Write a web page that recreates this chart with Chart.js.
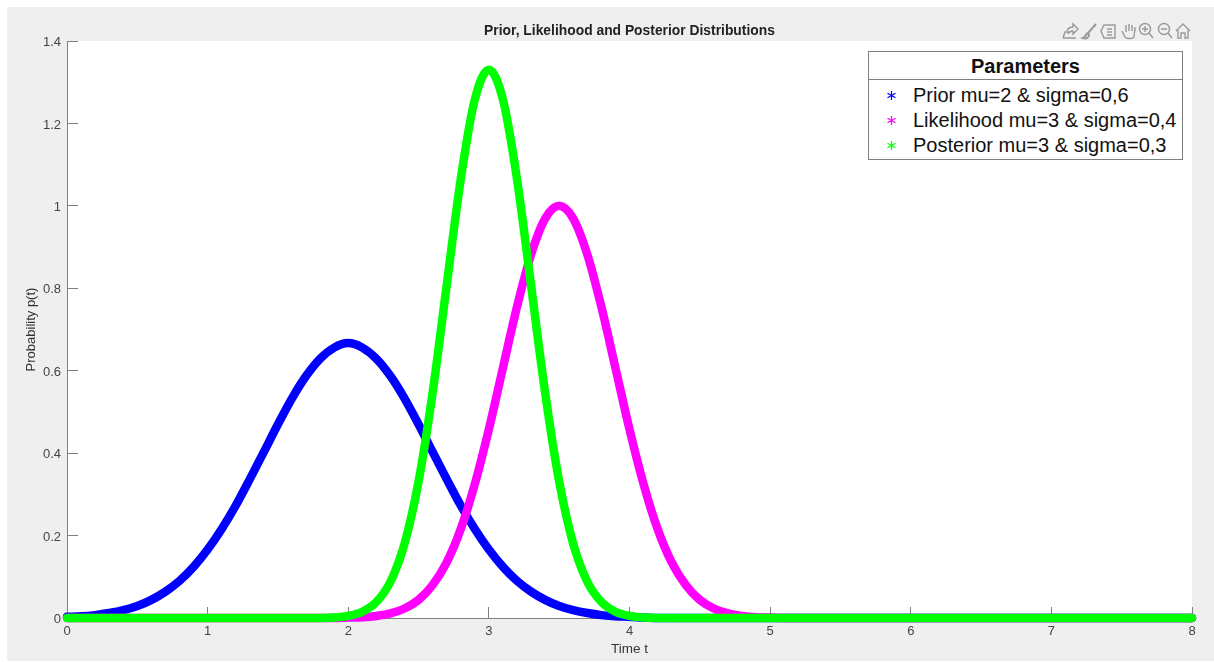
<!DOCTYPE html>
<html>
<head>
<meta charset="utf-8">
<style>
html, body { margin: 0; padding: 0; background: #fff; font-family: "Liberation Sans", Arial, sans-serif; }
#wrap { position: relative; width: 1214px; height: 662px; overflow: hidden; }
#bg { position: absolute; left: 7px; top: 7px; width: 1207px; height: 654px; background: #efefef; }
#myChart { position: absolute; left: 0; top: 0; }
#tools { position: absolute; left: 1060px; top: 21px; }
#legendBox { position: absolute; left: 868px; top: 51px; width: 313px; height: 107px; border: 1px solid #808080; background: #fff; color: #111; }
#legendBox .head { height: 27px; line-height: 29px; border-bottom: 1px solid #808080; text-align: center; font-weight: bold; font-size: 20px; }
#legendBox .row { position: relative; top: 3px; height: 25px; line-height: 25px; font-size: 20px; padding-left: 44px; white-space: nowrap; }
#legendBox svg { position: absolute; left: 18px; top: 8px; }
</style>
</head>
<body>
<div id="wrap">
  <div id="bg"></div>
  <canvas id="myChart" width="1214" height="662"></canvas>
  <svg id="tools" width="134" height="20" fill="none" stroke="#9a9a9a" stroke-width="1.4">
    <path d="M3 17h13M3 17l2-6h4M7 10c1-3 3-4 6-4V3l5 5-5 5v-3c-3 0-4 1-5 3"/>
    <path d="M36 3l-8 9M28 12c-3 1-2 4-5 5 3 1 6 0 6-3z" stroke-width="2"/>
    <path d="M41 10l3-6h11v13h-11zM47 8h5M47 11h5M47 14h5"/>
    <path d="M62 10l3 6c1 2 8 2 9 0l1-9M66 11V4M69 10V3M72 10V4M75 10V6"/>
    <circle cx="85" cy="8" r="5.5"/><path d="M89 12l4 5M82 8h6M85 5v6"/>
    <circle cx="104" cy="8" r="5.5"/><path d="M108 12l4 5M101 8h6"/>
    <path d="M116 10l7-7 7 7M118 9v8h3v-5h4v5h3V9"/>
  </svg>
  <div id="legendBox"></div>
</div>
<script src="https://cdn.jsdelivr.net/npm/chart.js@4"></script>
<script>
const timeValues = [
  0,0.1,0.2,0.3,0.4,0.5,0.6,0.7,0.8,0.9,
  1,1.1,1.2,1.3,1.4,1.5,1.6,1.7,1.8,1.9,
  2,2.1,2.2,2.3,2.4,2.5,2.6,2.7,2.8,2.9,
  3,3.1,3.2,3.3,3.4,3.5,3.6,3.7,3.8,3.9,
  4,4.1,4.2,4.3,4.4,4.5,4.6,4.7,4.8,4.9,
  5,5.1,5.2,5.3,5.4,5.5,5.6,5.7,5.8,5.9,
  6,6.1,6.2,6.3,6.4,6.5,6.6,6.7,6.8,6.9,
  7,7.1,7.2,7.3,7.4,7.5,7.6,7.7,7.8,7.9,
  8
];
const prior = [
  .003,.004,.007,.012,.019,.029,.044,.064,.090,.124,
  .166,.216,.273,.337,.403,.470,.533,.587,.629,.656,
  .667,.656,.629,.587,.533,.470,.403,.337,.273,.216,
  .166,.124,.090,.064,.044,.029,.019,.012,.007,.004,
  .003,.001,0,0,0,0,0,0,0,0,
  0,0,0,0,0,0,0,0,0,0,
  0,0,0,0,0,0,0,0,0,0,
  0,0,0,0,0,0,0,0,0,0,
  0
];
const likelihood = [
  0,0,0,0,0,0,0,0,0,0,
  0,0,0,0,0,0,0,0,0,0,
  .001,.002,.005,.011,.023,.044,.080,.135,.216,.325,
  .458,.607,.755,.882,.969,1,.969,.882,.755,.607,
  .458,.325,.216,.135,.080,.044,.023,.011,.005,.002,
  .001,0,0,0,0,0,0,0,0,0,
  0,0,0,0,0,0,0,0,0,0,
  0,0,0,0,0,0,0,0,0,0,
  0
];
const posterior = [
  0,0,0,0,0,0,0,0,0,0,
  0,0,0,0,0,0,0,0,0,.001,
  .005,.015,.039,.088,.180,.331,.547,.807,1.065,1.258,
  1.33,1.258,1.065,.807,.547,.331,.180,.088,.039,.015,
  .005,.001,0,0,0,0,0,0,0,0,
  0,0,0,0,0,0,0,0,0,0,
  0,0,0,0,0,0,0,0,0,0,
  0,0,0,0,0,0,0,0,0,0,
  0
];
const seriesNames = ['Prior mu=2 & sigma=0,6', 'Likelihood mu=3 & sigma=0,4', 'Posterior mu=3 & sigma=0,3'];
const seriesColors = ['#0000ff', '#ff00ff', '#00ff00'];
const xTickLabels = ['0','1','2','3','4','5','6','7','8'];
const yTickLabels = ['0','0.2','0.4','0.6','0.8','1','1.2','1.4'];

function toPoints(values) {
    return values.map((v, i) => ({ x: timeValues[i], y: v }));
}

function makeSeries(values, i) {
    return {
        label: seriesNames[i],
        data: toPoints(values),
        order: 3 - i, // later series paint over earlier ones
        borderColor: seriesColors[i],
        backgroundColor: seriesColors[i],
        borderWidth: 8.5,
        borderCapStyle: 'round',
        borderJoinStyle: 'round',
        pointRadius: 0,
        showLine: true,
        cubicInterpolationMode: 'monotone',
        clip: false
    };
}

// white plot background, figure stays gray
const plotBg = {
    id: 'plotBg',
    beforeDraw(chart) {
        const a = chart.chartArea;
        chart.ctx.save();
        chart.ctx.fillStyle = '#ffffff';
        chart.ctx.fillRect(a.left, a.top, a.right - a.left, a.bottom - a.top);
        chart.ctx.restore();
    }
};

const tickFont = { family: '"Liberation Sans"', size: 13 };

new Chart(document.getElementById('myChart').getContext('2d'), {
    type: 'scatter',
    data: { datasets: [makeSeries(prior, 0), makeSeries(likelihood, 1), makeSeries(posterior, 2)] },
    options: {
        responsive: false,
        animation: false,
        layout: { padding: { left: 0, right: 22, top: 0, bottom: 0 } },
        plugins: {
            legend: { display: false },
            tooltip: { enabled: false },
            title: {
                display: true,
                text: 'Prior, Likelihood and Posterior Distributions',
                color: '#222',
                fullSize: false,
                font: { family: '"Liberation Sans"', size: 13.85, weight: 'bold', lineHeight: 1.2 },
                padding: { top: 22.6, bottom: 1.8 }
            }
        },
        scales: {
            x: {
                type: 'linear',
                min: 0,
                max: 8,
                afterFit(scale) { scale.height = 44; },
                border: { color: '#808080', width: 1 },
                grid: { drawOnChartArea: false, tickLength: -11, tickColor: '#808080' },
                ticks: {
                    stepSize: 1,
                    color: '#444',
                    font: tickFont,
                    padding: 17,
                    maxRotation: 0,
                    callback: (v, i) => xTickLabels[i]
                },
                title: {
                    display: true,
                    text: 'Time t',
                    color: '#333',
                    font: { family: '"Liberation Sans"', size: 13.5 },
                    padding: { top: 0, bottom: 5 }
                }
            },
            y: {
                min: 0,
                max: 1.4,
                afterFit(scale) { scale.width = 67; },
                border: { color: '#808080', width: 1 },
                grid: { drawOnChartArea: false, tickLength: -11, tickColor: '#808080' },
                ticks: {
                    stepSize: 0.2,
                    color: '#444',
                    font: tickFont,
                    padding: 17,
                    labelOffset: 1.5,
                    callback: (v, i) => yTickLabels[i]
                },
                title: {
                    display: true,
                    text: 'Probability p(t)',
                    color: '#333',
                    font: tickFont,
                    padding: { top: 24, bottom: 0 }
                }
            }
        }
    },
    plugins: [plotBg]
});

// legend box sits on top of the plot, like the matlab one
const box = document.getElementById('legendBox');
const head = document.createElement('div');
head.className = 'head';
head.textContent = 'Parameters';
box.appendChild(head);
seriesNames.forEach((name, i) => {
    const row = document.createElement('div');
    row.className = 'row';
    row.textContent = name;
    const c = seriesColors[i];
    row.insertAdjacentHTML('afterbegin',
        '<svg width="9" height="9" stroke="' + c + '" stroke-width="1.2">' +
        '<path d="M4.5 0v9M0.5 2.2l8 4.6M8.5 2.2l-8 4.6"/></svg>');
    box.appendChild(row);
});
</script>
</body>
</html>
